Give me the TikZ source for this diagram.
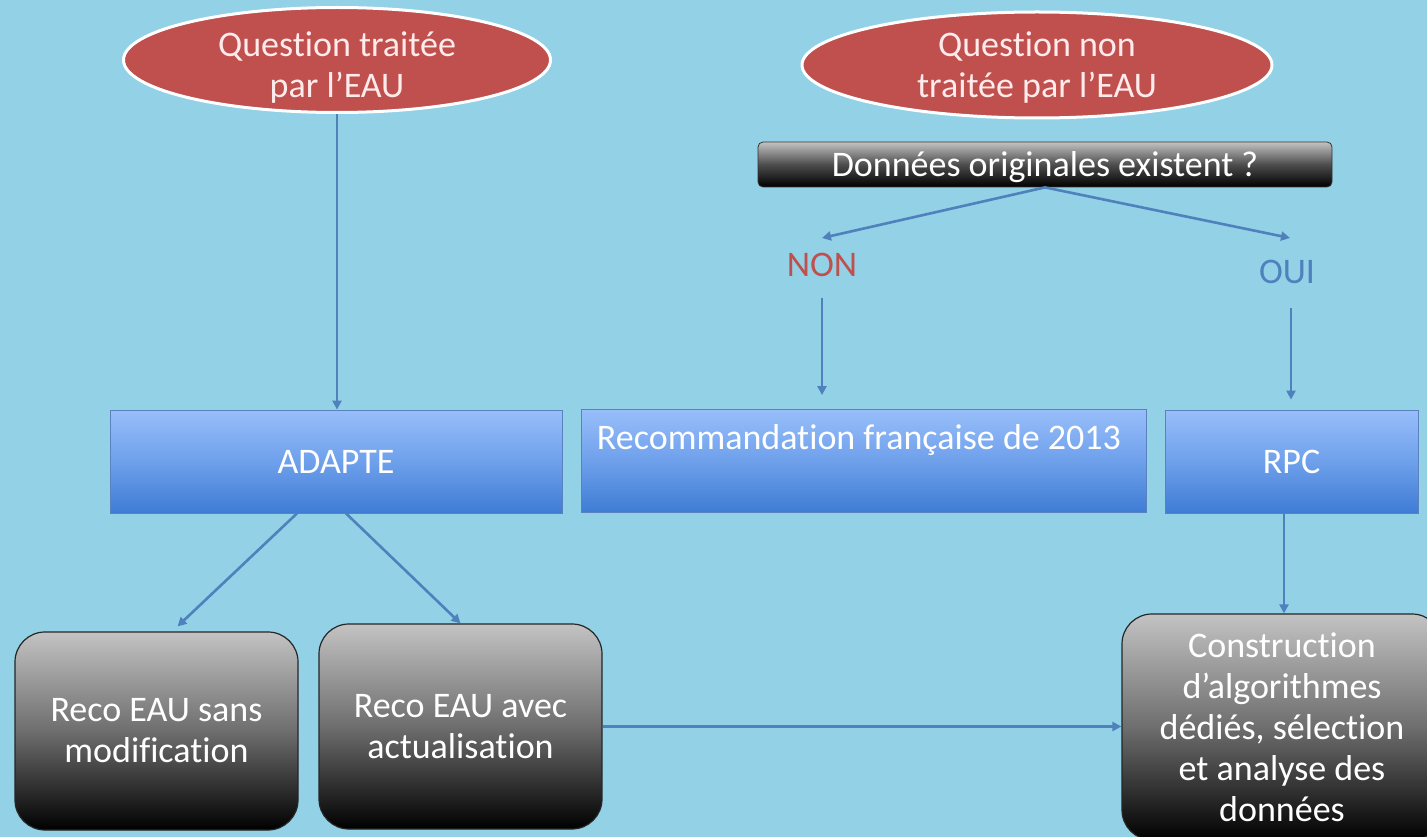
\documentclass[tikz,border=0pt]{standalone}
\usepackage{fontspec}
\setmainfont{Carlito}[Ligatures={NoCommon}]
\usetikzlibrary{shapes.geometric,arrows.meta}
\definecolor{bg}{RGB}{146,209,230}
\definecolor{ovalred}{RGB}{192,80,77}
\definecolor{ovaltext}{RGB}{255,235,235}
\definecolor{arrowblue}{RGB}{79,129,189}
\definecolor{boxtop}{RGB}{152,190,250}
\definecolor{boxmid}{RGB}{110,160,235}
\definecolor{boxbot}{RGB}{62,124,212}
\definecolor{boxline}{RGB}{90,130,190}
\definecolor{greytop}{RGB}{195,195,195}
\definecolor{greymid}{RGB}{110,110,110}
\definecolor{nonred}{RGB}{192,80,77}
\definecolor{ouiblue}{RGB}{79,129,189}
\begin{document}
\begin{tikzpicture}[x=1pt,y=-1pt,
  txt/.style={font=\fontsize{36}{41}\selectfont, text=white, align=center, inner sep=0pt},
  oval/.style={ellipse, fill=ovalred, draw=white, line width=3pt, inner xsep=0pt, inner ysep=-20pt,
    text=ovaltext, font=\fontsize{36}{41}\selectfont, align=center},
  bluebox/.style={rectangle, draw=boxline, line width=0.8pt, top color=boxtop, bottom color=boxbot,
    middle color=boxmid, minimum height=103pt, inner sep=0pt, text=white,
    font=\fontsize{36}{41}\selectfont, align=center},
  darkbox/.style={rectangle, rounded corners=30pt, draw=black!85, line width=1.2pt,
    top color=greytop, bottom color=black, middle color=greymid, inner sep=0pt, text=white,
    font=\fontsize{36}{41}\selectfont, align=center},
  barbox/.style={rectangle, rounded corners=5pt, draw=black!80, line width=0.8pt,
    top color=greytop, bottom color=black, middle color=greymid!70!black, inner sep=0pt, text=white,
    font=\fontsize{36}{41}\selectfont},
  arr/.style={draw=arrowblue, line width=2.6pt, -{Triangle[length=9pt,width=9pt]}},
]
\useasboundingbox (0,0) rectangle (1427,837);
\fill[bg] (0,0) rectangle (1427,837);
\clip (0,0) rectangle (1427,837);

% ovals
\node[oval, minimum width=427pt, minimum height=105pt] (e1) at (337,60)
  {\raisebox{-9pt}[\height][\depth]{\begin{tabular}{@{}c@{}}Question traitée\\par l’EAU\end{tabular}}};
\node[oval, minimum width=470pt, minimum height=106pt] (e2) at (1037,65)
  {\raisebox{-4pt}[\height][\depth]{\begin{tabular}{@{}c@{}}Question non\\traitée par l’EAU\end{tabular}}};

% question bar
\node[barbox, minimum width=574pt, minimum height=45pt] (bar) at (1045,164.5)
  {\raisebox{-3pt}[\height][\depth]{Données originales existent ?}};

% NON / OUI
\node[txt, text=nonred] (non) at (822,265) {NON};
\node[txt, text=ouiblue] (oui) at (1287,272) {OUI};

% blue boxes
\node[bluebox, minimum width=452pt] (adapte) at (336,461.5) {ADAPTE};
\node[bluebox, minimum width=565pt] (reco) at (863.5,461) {};
\node[txt] (recotxt) at (859,440) {Recommandation française de 2013};
\node[bluebox, minimum width=253pt] (rpc) at (1291.5,461.5) {RPC};

% dark boxes
\node[darkbox, minimum width=283pt, minimum height=198pt] (sans) at (156.5,731)
  {Reco EAU sans\\modification};
\node[darkbox, minimum width=283pt, minimum height=205pt] (avec) at (460.5,726.5)
  {Reco EAU avec\\actualisation};
\node[darkbox, minimum width=320pt, minimum height=226pt] (constr) at (1282,727)
  {Construction\\d’algorithmes\\dédiés, sélection\\et analyse des\\données};

% connectors
\draw[arr] (e1.south) -- (e1.south |- adapte.north);
\draw[arr] (bar.south) -- ([yshift=15pt]non.north);
\draw[arr] (bar.south) -- ([xshift=3pt,yshift=22pt]oui.north);
\draw[arr] ([yshift=-21pt]non.south) -- ([yshift=14pt]non.south |- reco.north);
\draw[arr] ([xshift=4pt,yshift=-24pt]oui.south) -- ([xshift=4pt,yshift=10pt]oui.south |- rpc.north);
\draw[arr] ([xshift=-39pt]adapte.south) -- ([xshift=21pt,yshift=5pt]sans.north);
\draw[arr] ([xshift=10pt]adapte.south) -- (avec.north);
\draw[arr] ([xshift=-7.5pt]rpc.south) -- ([xshift=-7.5pt]rpc.south |- constr.north);
\draw[arr] (avec.east) -- (avec.east -| constr.west);
\end{tikzpicture}
\end{document}
